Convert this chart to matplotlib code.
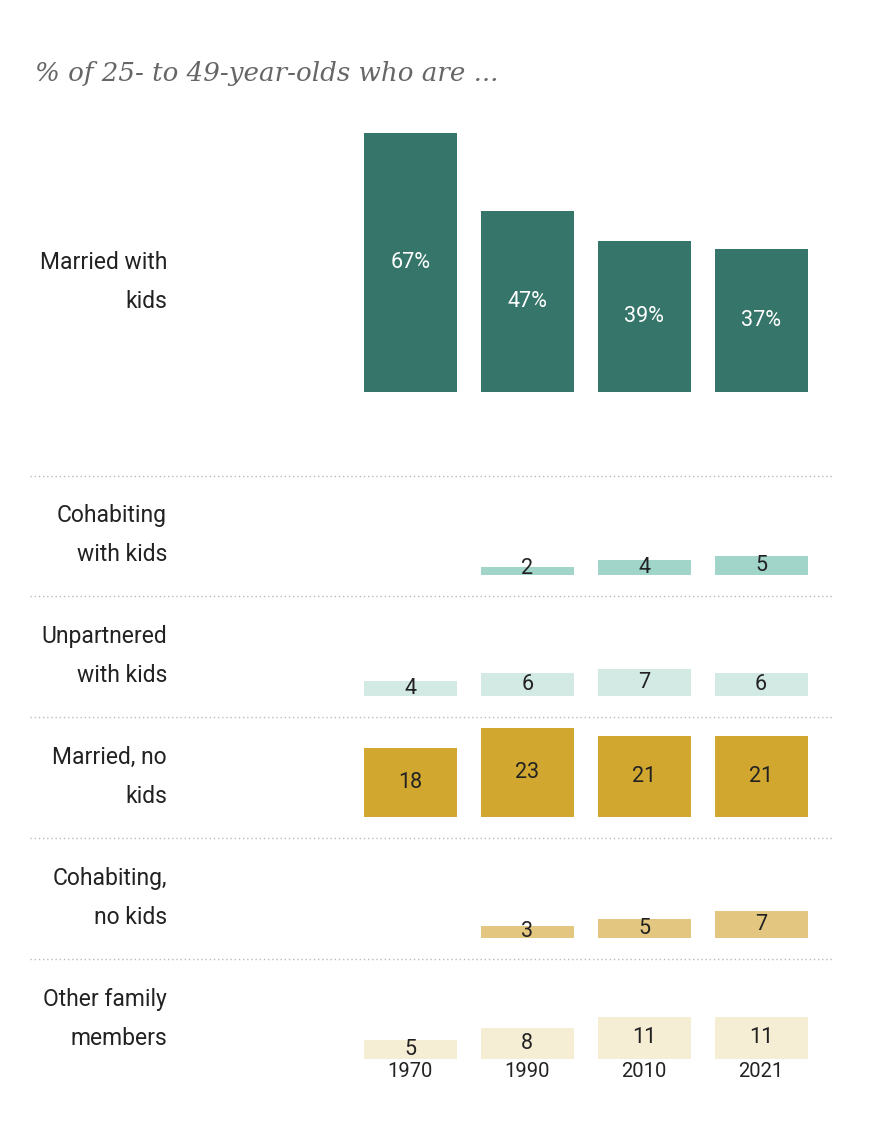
import matplotlib.pyplot as plt
from matplotlib.lines import Line2D

years = ["1970", "1990", "2010", "2021"]
rows = ["Married with\nkids", "Cohabiting\nwith kids", "Unpartnered\nwith kids",
        "Married, no\nkids", "Cohabiting,\nno kids", "Other family\nmembers"]
married_kids = [67, 47, 39, 37]
cohab_kids = [None, 2, 4, 5]
unpartnered_kids = [4, 6, 7, 6]
married_nokids = [18, 23, 21, 21]
cohab_nokids = [None, 3, 5, 7]
other_family = [5, 8, 11, 11]
series = [married_kids, cohab_kids, unpartnered_kids, married_nokids, cohab_nokids, other_family]
colors = ["#36756a", "#a2d5ca", "#d3e9e4", "#d1a730", "#e3c67f", "#f6edd5"]
text_colors = ["white", "#222222", "#222222", "#222222", "#222222", "#222222"]

W, H = 875, 1141
fig = plt.figure(figsize=(W / 100, H / 100), dpi=100)
plt.rcParams['font.family'] = ['Roboto', 'DejaVu Sans']

px_per_unit = 3.86
bottoms = [392, 575, 696, 817, 938, 1059]
tops = [120, 465, 586, 707, 828, 949]
label_y = [282, 535, 656, 777, 898, 1019]
ax_left, ax_right = 352, 819.5

for i, vals in enumerate(series):
    b, t = bottoms[i], tops[i]
    ax = fig.add_axes([ax_left / W, 1 - b / H, (ax_right - ax_left) / W, (b - t) / H])
    ax.set_xlim(-0.5, 3.5)
    ax.set_ylim(0, (b - t) / px_per_unit)
    ax.axis("off")
    for j, v in enumerate(vals):
        if v is None:
            continue
        ax.bar(j, v, width=0.795, color=colors[i], edgecolor="none")
        lab = f"{v}%" if i == 0 else str(v)
        ax.text(j, max(v / 2, 1.6), lab, ha="center", va="center",
                fontsize=15.5, color=text_colors[i])
    if i == len(series) - 1:
        for j, y in enumerate(years):
            ax.text(j, -0.8, y, ha="center", va="top", fontsize=14.5, color="#222222")
    fig.text(167 / W, 1 - label_y[i] / H, rows[i], ha="right", va="center",
             fontsize=16.5, color="#222222", linespacing=1.85)

# dotted row separators
for y in [476, 596, 717, 838, 959]:
    fig.add_artist(Line2D([30 / W, 833 / W], [1 - y / H, 1 - y / H],
                          color="#bbbbbb", lw=1, linestyle=(0, (1, 2))))

fig.text(35 / W, 1 - 73 / H, "% of 25- to 49-year-olds who are ...",
         fontsize=18.8, style="italic", family="DejaVu Serif", color="#666666",
         ha="left", va="center")

fig.savefig("out.png", dpi=100)
